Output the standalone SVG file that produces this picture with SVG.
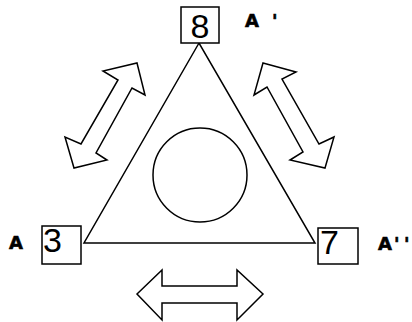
<svg xmlns="http://www.w3.org/2000/svg" width="412" height="322" viewBox="0 0 412 322">
<style>
.ln{fill:none;stroke:#000;stroke-width:1.5;stroke-linejoin:miter}
.box{fill:#fff;stroke:#000;stroke-width:1.5}
.num{font-family:"Liberation Sans",Arial,sans-serif;font-size:34px;fill:#000}
.lbl{font-family:"DejaVu Sans","Liberation Sans",sans-serif;font-size:18px;font-weight:bold;fill:#000;stroke:#000;stroke-width:0.6}
</style>
<rect width="412" height="322" fill="#fff"/>
<g id="connectors">
<polygon id="triangle" class="ln" points="199,43 84,243 315,243"/>
<polygon id="arrow-left" class="ln" points="137,63 145,95 132,88 96,153 107,160 74,168 65,137 81,144 118,80 103,71"/>
<polygon id="arrow-right" class="ln" points="263,63 296,72 282,79 319,144 334,137 325,168 290,160 303,152 267,87 254,95"/>
<polygon id="arrow-bottom" class="ln" points="137,294 162,270 162,286 237,286 237,270 263,294 237,320 237,303 162,303 162,320"/>
</g>
<g id="circle"><circle class="ln" cx="200" cy="175" r="47"/></g>
<g id="node-8">
<rect class="box" x="181" y="7" width="38" height="36"/>
<text class="num" x="200" y="38" text-anchor="middle">8</text>
<text class="lbl" x="245" y="27">A<tspan x="272">'</tspan></text>
</g>
<g id="node-3">
<rect class="box" x="42" y="226" width="39" height="38"/>
<text class="num" x="43" y="252">3</text>
<text class="lbl" x="9" y="249">A</text>
</g>
<g id="node-7">
<rect class="box" x="318" y="228" width="40" height="36"/>
<text class="num" x="320" y="254">7</text>
<text class="lbl" x="378" y="250">A<tspan x="394">'</tspan><tspan x="404">'</tspan></text>
</g>
</svg>
